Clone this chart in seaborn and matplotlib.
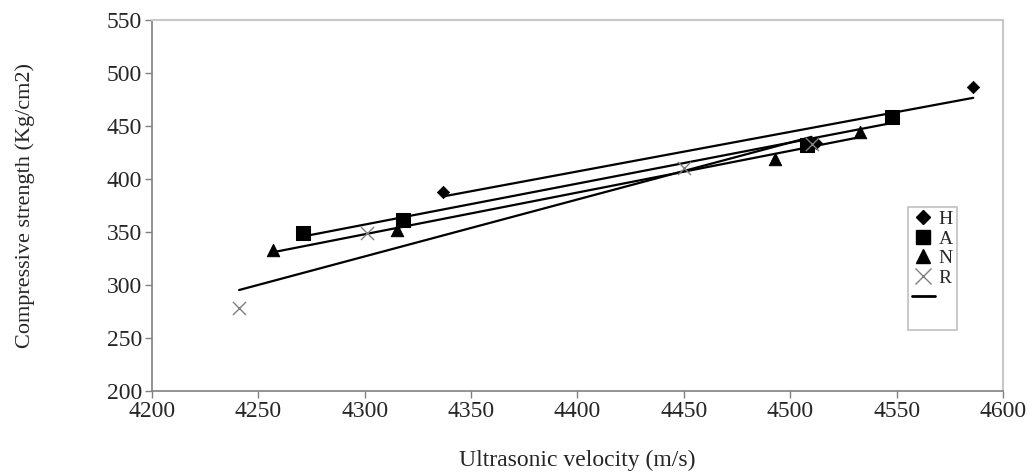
import numpy as np
import pandas as pd
import matplotlib
matplotlib.use("Agg")
import matplotlib.pyplot as plt
import seaborn as sns
from matplotlib.lines import Line2D

# values
h_vel = [4337, 4512, 4586]
h_str = [388, 434, 487]
a_vel = [4271, 4318, 4508, 4548]
a_str = [349, 361, 432, 458]
n_vel = [4257, 4315, 4493, 4533]
n_str = [333, 352, 419, 444]
r_vel = [4241, 4301, 4450, 4510]
r_str = [278, 349, 410, 433]

x_ticks = list(range(4200, 4601, 50))
y_ticks = list(range(200, 551, 50))

frames = []
for name, v, s in [("H", h_vel, h_str), ("A", a_vel, a_str),
                   ("N", n_vel, n_str), ("R", r_vel, r_str)]:
    frames.append(pd.DataFrame({"velocity": v, "strength": s, "group": name}))
df = pd.concat(frames, ignore_index=True)

sns.set_style("ticks")
plt.rcParams["font.family"] = ["Liberation Serif", "DejaVu Serif"]

fig = plt.figure(figsize=(10.33, 4.74), dpi=100)
ax = fig.add_axes([0.147, 0.175, 0.824, 0.783])

styles = {
    "H": dict(marker="D", s=40, color="black"),
    "A": dict(marker="s", s=90, color="black"),
    "N": dict(marker="^", s=80, color="black"),
    "R": dict(marker="x", s=90, color="#808080", linewidth=1.0),
}

# trend lines over each group's data range
for name in ["H", "A", "N", "R"]:
    sub = df[df["group"] == name]
    sns.regplot(data=sub, x="velocity", y="strength", ax=ax, scatter=False,
                ci=None, truncate=True, color="black", line_kws={"linewidth": 1.6})

for name in ["H", "A", "N", "R"]:
    sub = df[df["group"] == name]
    st = styles[name]
    kw = dict(marker=st["marker"], s=st["s"], color=st["color"], ax=ax, zorder=3)
    if name == "R":
        kw["linewidth"] = st["linewidth"]
    else:
        kw["edgecolor"] = "black"
    sns.scatterplot(data=sub, x="velocity", y="strength", **kw)

ax.set_xlim(4200, 4600)
ax.set_ylim(200, 550)
ax.set_xticks(x_ticks)
ax.set_yticks(y_ticks)
ax.tick_params(labelsize=17, length=5, color="#808080", width=1, pad=2)
ax.set_xlabel("Ultrasonic velocity (m/s)", fontsize=17, labelpad=20)
ax.set_ylabel("Compressive strength (Kg/cm2)", fontsize=16, labelpad=52)

for side in ["left", "bottom"]:
    ax.spines[side].set_color("#808080")
    ax.spines[side].set_linewidth(1.2)
for side in ["top", "right"]:
    ax.spines[side].set_visible(True)
    ax.spines[side].set_color("#c8c8c8")
    ax.spines[side].set_linewidth(1.5)

handles = [
    Line2D([], [], marker="D", color="black", linestyle="none", markersize=7),
    Line2D([], [], marker="s", color="black", linestyle="none", markersize=10),
    Line2D([], [], marker="^", color="black", linestyle="none", markersize=10),
    Line2D([], [], marker="x", color="#808080", linestyle="none", markersize=11, markeredgewidth=1),
    Line2D([], [], color="black", linewidth=2),
    Line2D([], [], color="none"),
]
labels = ["H", "A", "N", "R", "", ""]
leg = ax.legend(handles, labels, loc="upper left", bbox_to_anchor=(0.888, 0.497),
                frameon=True, fancybox=False, fontsize=14, handlelength=1.2,
                handletextpad=0.2, borderpad=0.2, labelspacing=0.1, borderaxespad=0)
leg.get_frame().set_edgecolor("#b0b0b0")
leg.get_frame().set_linewidth(1.2)

fig.savefig("out.png", dpi=100)
